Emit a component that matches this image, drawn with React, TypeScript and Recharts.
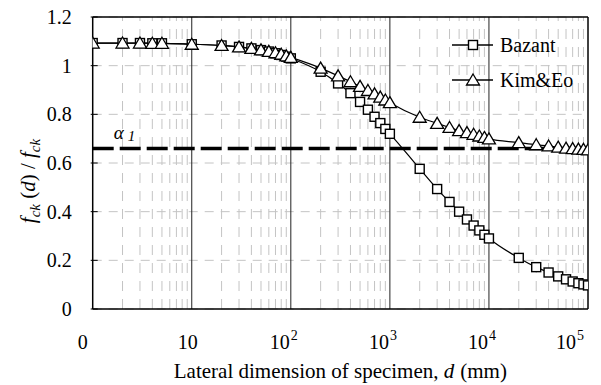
import React from "react";
import {
  LineChart,
  Line,
  XAxis,
  YAxis,
  CartesianGrid,
  ReferenceLine,
} from "recharts";

// lateral dimension d (mm), shared by both series
const dimensions = [
  1, 2, 3, 4, 5, 10, 20, 30, 40, 50, 60, 70, 80, 90, 100, 200, 300, 400, 500,
  600, 700, 800, 900, 1000, 2000, 3000, 4000, 5000, 6000, 7000, 8000, 9000,
  10000, 20000, 30000, 40000, 50000, 60000, 70000, 80000, 90000, 100000,
];

const bazant = [
  1.093, 1.093, 1.093, 1.092, 1.092, 1.088, 1.083, 1.077, 1.071, 1.064, 1.058,
  1.051, 1.044, 1.037, 1.03, 0.975, 0.927, 0.887, 0.851, 0.819, 0.79, 0.764,
  0.74, 0.72, 0.576, 0.493, 0.44, 0.4, 0.368, 0.343, 0.323, 0.305, 0.29, 0.21,
  0.172, 0.15, 0.134, 0.122, 0.113, 0.106, 0.101, 0.097,
];

const kimEo = [
  1.093, 1.093, 1.093, 1.092, 1.092, 1.088, 1.083, 1.077, 1.071, 1.065, 1.059,
  1.053, 1.047, 1.04, 1.034, 0.99, 0.958, 0.934, 0.915, 0.898, 0.884, 0.871,
  0.859, 0.848, 0.788, 0.763, 0.746, 0.733, 0.725, 0.718, 0.711, 0.705, 0.699,
  0.684, 0.675, 0.67, 0.665, 0.661, 0.659, 0.657, 0.656, 0.654,
];

const xTicks = [1, 10, 100, 1000, 10000, 100000];
const yTicks = [0, 0.2, 0.4, 0.6, 0.8, 1, 1.2];
const alpha1 = 0.66;
const seriesNames = ["Bazant", "Kim&Eo"];

const minorTicks: number[] = [];
for (let k = 0; k < 5; k++) {
  for (let m = 2; m <= 9; m++) minorTicks.push(m * Math.pow(10, k));
}

const data = dimensions.map((d, i) => ({ d, bazant: bazant[i], kimEo: kimEo[i] }));

const FONT = '"Liberation Serif", "Times New Roman", Times, "DejaVu Serif", serif';
const txt = { fontFamily: FONT, fill: "#000" };

function Square({ cx, cy }: any) {
  if (cx == null || cy == null) return null;
  return (
    <rect x={cx - 4.5} y={cy - 4.5} width={9} height={9} fill="#fff" stroke="#000" strokeWidth={1.4} />
  );
}

function Triangle({ cx, cy }: any) {
  if (cx == null || cy == null) return null;
  return (
    <path
      d={`M${cx},${cy - 6} L${cx + 6.5},${cy + 5} L${cx - 6.5},${cy + 5} Z`}
      fill="#fff"
      stroke="#000"
      strokeWidth={1.3}
    />
  );
}

function XTick({ x, y, payload }: any) {
  const v = payload.value;
  const exp = Math.round(Math.log10(v));
  if (exp === 0)
    return (
      <text x={x - 10} y={y + 38} textAnchor="middle" style={txt} fontSize={20}>
        0
      </text>
    );
  if (exp === 1)
    return (
      <text x={x - 4} y={y + 38} textAnchor="middle" style={txt} fontSize={20}>
        10
      </text>
    );
  return (
    <g>
      <text x={x - 1} y={y + 38} textAnchor="end" style={txt} fontSize={20}>
        10
      </text>
      <text x={x} y={y + 29} textAnchor="start" style={txt} fontSize={14}>
        {exp}
      </text>
    </g>
  );
}

function YTick({ x, y, payload }: any) {
  return (
    <g>
      <line x1={x} x2={x + 7} y1={y} y2={y} stroke="#000" strokeWidth={1} />
      <text x={x - 19} y={y + 7} textAnchor="end" style={txt} fontSize={20}>
        {payload.value === 0 || payload.value === 1 ? payload.value : payload.value.toFixed(1)}
      </text>
    </g>
  );
}

function AlphaLabel({ viewBox }: any) {
  return (
    <text x={viewBox.x + 21} y={viewBox.y - 9} style={txt} fontSize={19} fontStyle="italic">
      α<tspan dx={4} fontSize={15} dy={2}>1</tspan>
    </text>
  );
}

function XLabel({ viewBox }: any) {
  const cx = viewBox.x + viewBox.width / 2;
  return (
    <text x={cx} y={378} textAnchor="middle" style={txt} fontSize={21}>
      Lateral dimension of specimen, <tspan fontStyle="italic">d</tspan>
      <tspan dx={6}>(mm)</tspan>
    </text>
  );
}

function YLabel() {
  return (
    <text transform="translate(35,181) rotate(-90)" textAnchor="middle" style={txt} fontSize={21}>
      <tspan fontStyle="italic">f</tspan>
      <tspan fontStyle="italic" fontSize={15} dy={5}>ck</tspan>
      <tspan dy={-5}> (</tspan>
      <tspan fontStyle="italic">d</tspan>
      <tspan>) / </tspan>
      <tspan fontStyle="italic">f</tspan>
      <tspan fontStyle="italic" fontSize={15} dy={5}>ck</tspan>
    </text>
  );
}

function LegendBox() {
  const markers = [Square, Triangle];
  return (
    <svg width={140} height={80} style={{ position: "absolute", left: 450, top: 32 }}>
      {seriesNames.map((name, i) => {
        const y = 13 + i * 35;
        const Marker = markers[i];
        return (
          <g key={name}>
            <line x1={2} x2={43} y1={y} y2={y} stroke="#000" strokeWidth={1.3} />
            <Marker cx={23} cy={y} />
            <text x={50} y={y + 7} style={txt} fontSize={20}>
              {name}
            </text>
          </g>
        );
      })}
    </svg>
  );
}

export default function App() {
  return (
    <div
      style={{
        position: "absolute",
        left: 0,
        top: 0,
        width: 601,
        height: 385,
        background: "#fff",
        fontFamily: FONT,
      }}
    >
      <LineChart
        width={601}
        height={385}
        data={data}
        margin={{ top: 17, right: 13, bottom: 26, left: 20 }}
        style={{ fontFamily: FONT }}
      >
        <CartesianGrid vertical={false} stroke="#c4c4c4" strokeDasharray="9 7" />
        {minorTicks.map((t) => (
          <ReferenceLine key={t} x={t} stroke="#c4c4c4" strokeDasharray="10 8" />
        ))}
        {xTicks.slice(1, -1).map((t) => (
          <ReferenceLine key={"M" + t} x={t} stroke="#222" strokeWidth={1} />
        ))}
        <ReferenceLine y={1.2} stroke="#000" strokeWidth={1.5} />
        <ReferenceLine x={100000} stroke="#000" strokeWidth={1.5} />
        <XAxis
          dataKey="d"
          type="number"
          scale="log"
          domain={[1, 100000]}
          ticks={xTicks}
          tick={<XTick />}
          tickLine={false}
          tickSize={0}
          axisLine={{ stroke: "#000", strokeWidth: 1.5 }}
          height={50}
          allowDataOverflow
          label={<XLabel />}
        />
        <YAxis
          type="number"
          domain={[0, 1.2]}
          ticks={yTicks}
          tick={<YTick />}
          tickLine={false}
          tickSize={0}
          axisLine={{ stroke: "#000", strokeWidth: 1.5 }}
          width={72.7}
          label={<YLabel />}
        />
        <ReferenceLine
          y={alpha1}
          stroke="#000"
          strokeWidth={3.5}
          strokeDasharray="21 6"
          label={<AlphaLabel />}
        />
        <Line
          type="monotone"
          dataKey="bazant"
          name={seriesNames[0]}
          stroke="#000"
          strokeWidth={1.2}
          dot={<Square />}
          activeDot={false}
          isAnimationActive={false}
        />
        <Line
          type="monotone"
          dataKey="kimEo"
          name={seriesNames[1]}
          stroke="#000"
          strokeWidth={1.2}
          dot={<Triangle />}
          activeDot={false}
          isAnimationActive={false}
        />
      </LineChart>
      <LegendBox />
    </div>
  );
}
